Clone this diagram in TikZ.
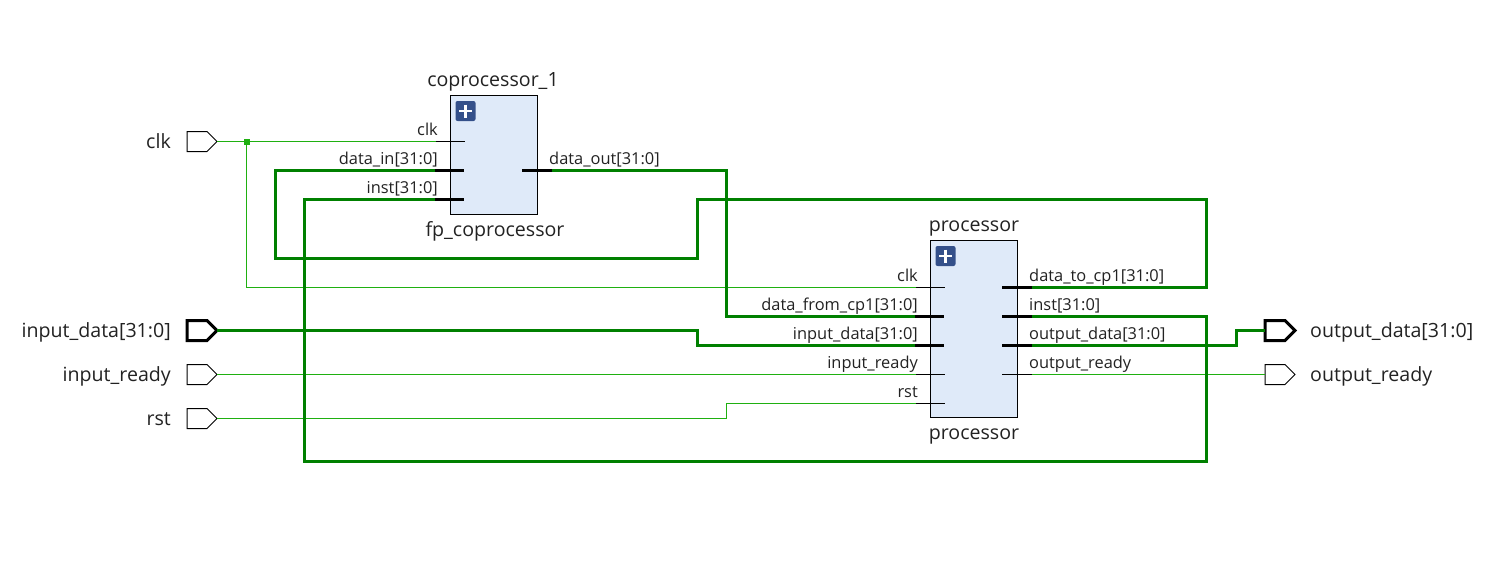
\documentclass[tikz,border=0pt]{standalone}
\usepackage{fontspec}
\setmainfont{Open Sans}
\usetikzlibrary{shapes.symbols}
\definecolor{wirethin}{HTML}{1FB011}
\definecolor{wirebus}{HTML}{008000}
\definecolor{blockfill}{HTML}{DFEAF9}
\definecolor{btnfill}{HTML}{34508A}
\definecolor{txt}{HTML}{222222}
\tikzset{
	wire/.style={wirethin, line width=1pt},
	bus/.style={wirebus, line width=3pt},
	stub/.style={black, line width=1pt},
	busstub/.style={black, line width=3pt},
	port/.style={draw=black, fill=white, line width=1pt, shape=signal, signal to=east, signal from=nowhere, minimum width=30pt, minimum height=20pt, inner sep=0pt, outer sep=0pt},
	busport/.style={port, line width=3pt},
	block/.style={draw=black, fill=blockfill, line width=1pt, minimum width=87pt, inner sep=0pt, outer sep=0pt},
	btn/.style={fill=btnfill, rounded corners=2pt, minimum size=20pt, inner sep=0pt, outer sep=0pt},
	dot/.style={fill=wirethin, minimum size=6pt, inner sep=0pt, outer sep=0pt},
	biglabel/.style={txt, font=\fontsize{19.6}{22}\selectfont, inner sep=0pt},
	pinlabel/.style={txt, font=\fontsize{16.4}{20}\selectfont, inner sep=0pt},
}
\begin{document}
\begin{tikzpicture}[x=1pt, y=-1pt]
	\useasboundingbox (0,0) rectangle (1495,570);
	% blocks
	\node[block, minimum height=119pt] (cp) at (494,155) {};
	\node[block, minimum height=177pt] (pr) at (974,329) {};
	\node[btn] (cpbtn) at (465.5,111) {};
	\node[btn] (prbtn) at (945.5,256) {};
	\draw[white, line width=2.6pt] (459,111) -- (472,111) (465.5,104.5) -- (465.5,117.5);
	\draw[white, line width=2.6pt] (939,256) -- (952,256) (945.5,249.5) -- (945.5,262.5);
	% pins of the coprocessor
	\coordinate (cpclk) at (436,141.5);
	\coordinate (cpin) at (435,170.5);
	\coordinate (cpinst) at (435,199.5);
	\coordinate (cpout) at (552,170.5);
	\draw[stub] (cpclk) -- (465,141.5);
	\draw[busstub] (cpin) -- (464,170.5);
	\draw[busstub] (cpinst) -- (464,199.5);
	\draw[busstub] (cpout) -- (522,170.5);
	% pins of the processor
	\coordinate (prclk) at (916,287.5);
	\coordinate (prfrom) at (915,316.5);
	\coordinate (prin) at (915,345.5);
	\coordinate (prrdy) at (916,374.5);
	\coordinate (prrst) at (916,403.5);
	\coordinate (prto) at (1032,287.5);
	\coordinate (prinst) at (1032,316.5);
	\coordinate (prout) at (1032,345.5);
	\coordinate (prordy) at (1032,374.5);
	\draw[stub] (prclk) -- (945,287.5);
	\draw[busstub] (prfrom) -- (944,316.5);
	\draw[busstub] (prin) -- (944,345.5);
	\draw[stub] (prrdy) -- (945,374.5);
	\draw[stub] (prrst) -- (945,403.5);
	\draw[busstub] (prto) -- (1002,287.5);
	\draw[busstub] (prinst) -- (1002,316.5);
	\draw[busstub] (prout) -- (1002,345.5);
	\draw[stub] (prordy) -- (1002,374.5);
	% ports
	\node[port] (clk) at (197,141.5) {};
	\node[busport] (indata) at (197,330.5) {};
	\node[port] (inrdy) at (197,374.5) {};
	\node[port] (rst) at (197,418.5) {};
	\node[busport] (outdata) at (1275,330.5) {};
	\node[port] (outrdy) at (1275,374.5) {};
	\node[dot] (clkdot) at (246.5,141.5) {};
	% wires
	\draw[wire] (clk.east) -- (clkdot) -- (cpclk);
	\draw[wire] (clkdot) -- (246.5,287.5) -- (prclk);
	\draw[wire] (inrdy.east) -- (prrdy);
	\draw[wire] (rst.east) -- (726.5,418.5) -- (726.5,403.5) -- (prrst);
	\draw[wire] (prordy) -- (outrdy.west);
	\draw[bus] (cpin) -- (275.5,170.5) -- (275.5,258.5) -- (697.5,258.5) -- (697.5,199.5) -- (1206.5,199.5) -- (1206.5,287.5) -- (prto);
	\draw[bus] (cpinst) -- (304.5,199.5) -- (304.5,461.5) -- (1206.5,461.5) -- (1206.5,316.5) -- (prinst);
	\draw[bus] (cpout) -- (726.5,170.5) -- (726.5,316.5) -- (prfrom);
	\draw[bus] (indata.east) -- (697.5,330.5) -- (697.5,345.5) -- (prin);
	\draw[bus] (prout) -- (1236.5,345.5) -- (1236.5,330.5) -- (outdata.west);
	% block names
	\node[biglabel, anchor=base] (cpname) at (493,86) {coprocessor\_1};
	\node[biglabel, anchor=base] (cptype) at (495,236) {fp\_coprocessor};
	\node[biglabel, anchor=base] (prname) at (974,231) {processor};
	\node[biglabel, anchor=base] (prtype) at (974,439) {processor};
	% port names
	\node[biglabel, anchor=base east] (clklabel) at (171,148) {clk};
	\node[biglabel, anchor=base east] (indatalabel) at (171,337) {input\_data[31:0]};
	\node[biglabel, anchor=base east] (inrdylabel) at (171,381) {input\_ready};
	\node[biglabel, anchor=base east] (rstlabel) at (171,425) {rst};
	\node[biglabel, anchor=base west] (outdatalabel) at (1310,337) {output\_data[31:0]};
	\node[biglabel, anchor=base west] (outrdylabel) at (1310,381) {output\_ready};
	% pin names
	\node[pinlabel, anchor=base east] (lcpclk) at (438,135) {clk};
	\node[pinlabel, anchor=base east] (lcpin) at (438,164) {data\_in[31:0]};
	\node[pinlabel, anchor=base east] (lcpinst) at (438,193) {inst[31:0]};
	\node[pinlabel, anchor=base west] (lcpout) at (549,164) {data\_out[31:0]};
	\node[pinlabel, anchor=base east] (lprclk) at (918,281) {clk};
	\node[pinlabel, anchor=base east] (lprfrom) at (918,310) {data\_from\_cp1[31:0]};
	\node[pinlabel, anchor=base east] (lprin) at (918,339) {input\_data[31:0]};
	\node[pinlabel, anchor=base east] (lprrdy) at (918,368) {input\_ready};
	\node[pinlabel, anchor=base east] (lprrst) at (918,397) {rst};
	\node[pinlabel, anchor=base west] (lprto) at (1029,281) {data\_to\_cp1[31:0]};
	\node[pinlabel, anchor=base west] (lprinst) at (1029,310) {inst[31:0]};
	\node[pinlabel, anchor=base west] (lprout) at (1029,339) {output\_data[31:0]};
	\node[pinlabel, anchor=base west] (lprordy) at (1029,368) {output\_ready};
\end{tikzpicture}
\end{document}
